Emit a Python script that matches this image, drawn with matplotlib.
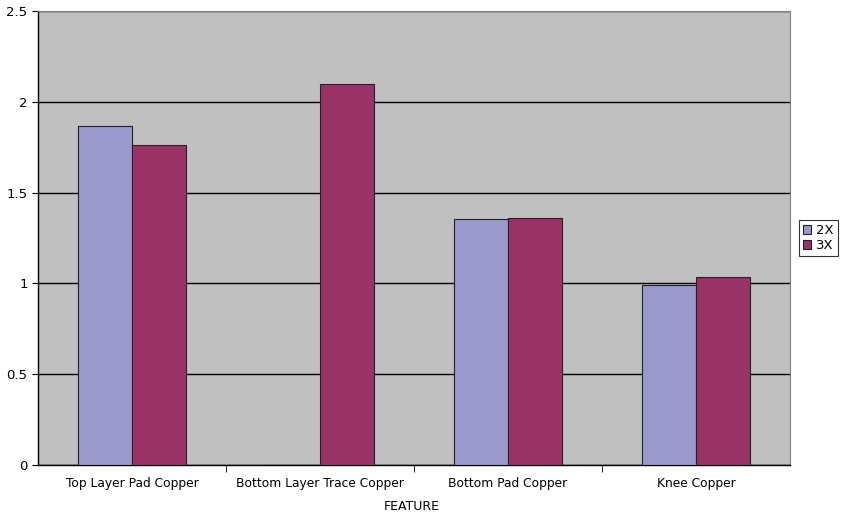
import matplotlib
matplotlib.use("Agg")
import matplotlib.pyplot as plt
import numpy as np

categories = ["Top Layer Pad Copper", "Bottom Layer Trace Copper", "Bottom Pad Copper", "Knee Copper"]
series_names = ["2X", "3X"]
values_2x = [1.867, 0.0, 1.355, 0.993]
values_3x = [1.762, 2.098, 1.36, 1.035]
yticks = [0, 0.5, 1, 1.5, 2, 2.5]
ytick_labels = ["0", "0.5", "1", "1.5", "2", "2.5"]
xlabel = "FEATURE"

fig = plt.figure(figsize=(8.45, 5.12), dpi=100)
ax = fig.add_axes([38/845, 47/512, 752/845, 454/512])
ax.set_facecolor("#C0C0C0")

x = np.arange(len(categories))
w = 0.287
ax.bar(x - w/2, values_2x, w, color="#9999CC", edgecolor="#222222", linewidth=0.8, label=series_names[0], zorder=3)
ax.bar(x + w/2, values_3x, w, color="#993366", edgecolor="#222222", linewidth=0.8, label=series_names[1], zorder=3)

ax.set_xlim(-0.5, len(categories) - 0.5)
ax.set_ylim(0, 2.5)
ax.set_yticks(yticks)
ax.set_yticklabels(ytick_labels, fontsize=9.5)
ax.yaxis.grid(True, color="black", linewidth=1, zorder=1)
ax.set_axisbelow(True)

ax.set_xticks(x)
ax.set_xticklabels(categories, fontsize=8.8)
ax.tick_params(axis="x", length=0, pad=9)
ax.set_xticks(np.arange(0.5, len(categories) - 0.5, 1), minor=True)
ax.tick_params(axis="x", which="minor", length=5, color="black")
ax.tick_params(axis="y", length=4, color="black")

for s in ["top", "right"]:
    ax.spines[s].set_color("#808080")
for s in ["left", "bottom"]:
    ax.spines[s].set_color("black")
    ax.spines[s].set_linewidth(1)

fig.text(412/845, 1 - 506/512, xlabel, fontsize=9, ha="center", va="center")

leg = ax.legend(loc="center left", bbox_to_anchor=(1.012, 0.5), frameon=True, fontsize=9.5,
                handlelength=0.6, handleheight=0.6, handletextpad=0.4, borderpad=0.3,
                labelspacing=0.15, fancybox=False, borderaxespad=0)
leg.get_frame().set_edgecolor("black")
leg.get_frame().set_linewidth(0.8)

fig.savefig("out.png", dpi=100)
